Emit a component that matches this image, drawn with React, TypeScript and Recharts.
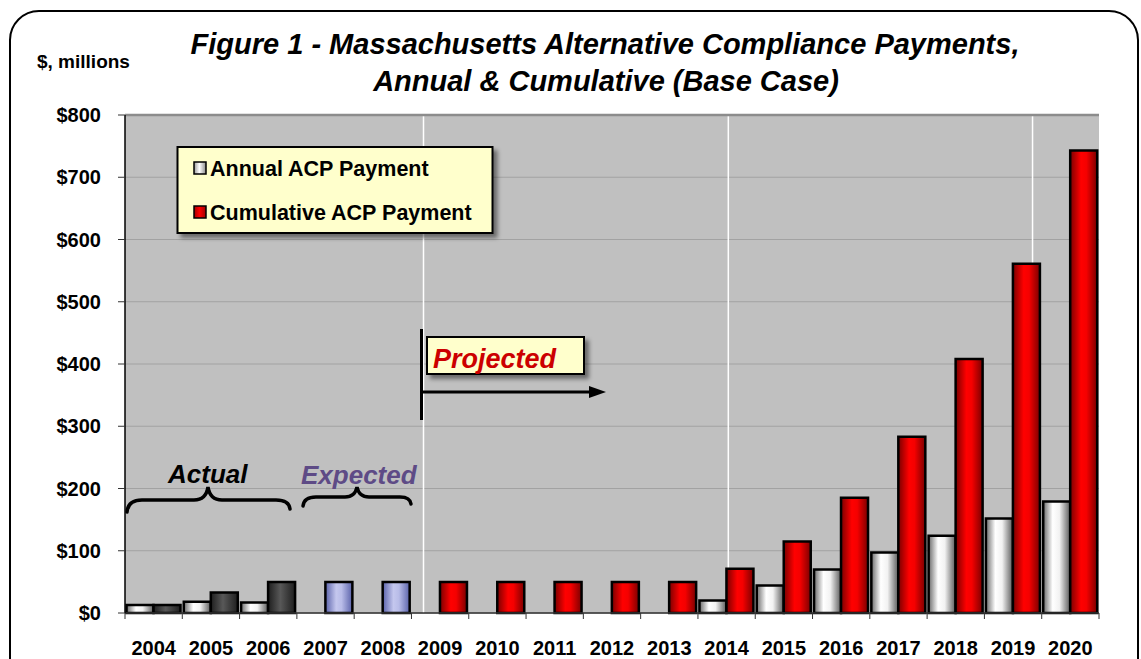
import React from 'react';
import { BarChart, Bar, XAxis, YAxis, CartesianGrid, ReferenceLine, Cell } from 'recharts';

const years = ['2004', '2005', '2006', '2007', '2008', '2009', '2010', '2011', '2012', '2013', '2014', '2015', '2016', '2017', '2018', '2019', '2020'];
const annualPayment: (number | null)[] = [13, 18, 17, null, null, null, null, null, null, null, 20, 44, 70, 97, 124, 152, 179];
const cumulativePayment = [13, 33, 50, 50, 50, 50, 50, 50, 50, 50, 71, 115, 185, 283, 408, 561, 743];
const phase = ['actual', 'actual', 'actual', 'expected', 'expected', 'projected', 'projected', 'projected', 'projected', 'projected', 'projected', 'projected', 'projected', 'projected', 'projected', 'projected', 'projected'];
const yTicks = [0, 100, 200, 300, 400, 500, 600, 700, 800];
const seriesNames = ['Annual ACP Payment', 'Cumulative ACP Payment'];
const dividerPositions = [5.21, 10.53, 15.84];

const data = years.map((year, i) => ({ year, annual: annualPayment[i], cumulative: cumulativePayment[i], phase: phase[i] }));

const W = 1141;
const H = 659;
const MARGIN = { top: 115, right: 42, left: 0, bottom: 0 };
const Y_W = 125;
const X_H = 46;
const PLOT_W = W - MARGIN.left - MARGIN.right - Y_W;
const TICK_SIZE = 6;
const TICK_MARGIN = 2;
const FONT = 'Arial, "Liberation Sans", Helvetica, sans-serif';

const phaseFill: Record<string, string> = {
  actual: 'url(#gDark)',
  expected: 'url(#gBlue)',
  projected: 'url(#gRed)',
};

const XTick = (props: any) => {
  const { x, y, payload, index } = props;
  const half = PLOT_W / years.length / 2;
  const axisY = y - TICK_SIZE - TICK_MARGIN;
  const last = index === years.length - 1;
  return (
    <g>
      <line x1={x - half} x2={x - half} y1={axisY} y2={axisY + TICK_SIZE} stroke="#333" strokeWidth={1} />
      {last && <line x1={x + half} x2={x + half} y1={axisY} y2={axisY + TICK_SIZE} stroke="#333" strokeWidth={1} />}
      <text x={x} y={axisY + 42} textAnchor="middle" fontFamily={FONT} fontWeight="bold" fontSize={20} fill="#000">
        {payload.value}
      </text>
    </g>
  );
};

const verticalGen = (args: any) => {
  const off = args && args.offset ? args.offset : { left: Y_W, width: PLOT_W };
  const n = years.length;
  return dividerPositions.map((p) => off.left + (p * off.width) / n);
};

export default function App() {
  return (
    <div style={{ position: 'fixed', left: 0, top: 0, width: W, height: H, overflow: 'hidden', background: '#fff' }}>
      <div
        style={{
          position: 'absolute',
          left: 9,
          top: 10,
          width: 1130,
          height: 720,
          border: '2.5px solid #000',
          borderRadius: 30,
          boxSizing: 'border-box',
        }}
      />
      <div style={{ position: 'absolute', left: 0, top: 0 }}>
        <BarChart width={W} height={H} data={data} margin={MARGIN} barCategoryGap={1.5} barGap={0}>
          <defs>
            <linearGradient id="gWhite" x1="0" y1="0" x2="1" y2="0">
              <stop offset="0%" stopColor="#6a6a6a" />
              <stop offset="35%" stopColor="#ffffff" />
              <stop offset="60%" stopColor="#f2f2f2" />
              <stop offset="100%" stopColor="#5a5a5a" />
            </linearGradient>
            <linearGradient id="gRed" x1="0" y1="0" x2="1" y2="0">
              <stop offset="0%" stopColor="#7a0000" />
              <stop offset="40%" stopColor="#ff0000" />
              <stop offset="60%" stopColor="#f50000" />
              <stop offset="100%" stopColor="#7a0000" />
            </linearGradient>
            <linearGradient id="gDark" x1="0" y1="0" x2="1" y2="0">
              <stop offset="0%" stopColor="#1e1e1e" />
              <stop offset="45%" stopColor="#585858" />
              <stop offset="100%" stopColor="#1e1e1e" />
            </linearGradient>
            <linearGradient id="gBlue" x1="0" y1="0" x2="1" y2="0">
              <stop offset="0%" stopColor="#5a62aa" />
              <stop offset="40%" stopColor="#c4c7ee" />
              <stop offset="60%" stopColor="#b8bce8" />
              <stop offset="100%" stopColor="#5a62aa" />
            </linearGradient>
          </defs>
          <CartesianGrid vertical={false} fill="#C0C0C0" stroke="#A2A2A2" strokeWidth={1} />
          <CartesianGrid horizontal={false} stroke="#FFFFFF" strokeWidth={1.5} verticalCoordinatesGenerator={verticalGen} />
          <XAxis
            dataKey="year"
            height={X_H}
            interval={0}
            tickLine={false}
            tickSize={TICK_SIZE}
            tickMargin={TICK_MARGIN}
            axisLine={{ stroke: '#333', strokeWidth: 1.5 }}
            tick={<XTick />}
          />
          <XAxis xAxisId="num" type="number" domain={[0, years.length]} hide />
          <YAxis
            width={Y_W}
            domain={[0, 800]}
            ticks={yTicks}
            interval={0}
            tickFormatter={(v: number) => `$${v}`}
            tickSize={7}
            tickMargin={17}
            tickLine={{ stroke: '#333' }}
            axisLine={{ stroke: '#000', strokeWidth: 1.5 }}
            tick={{ fontSize: 20, fontWeight: 'bold', fill: '#000', fontFamily: FONT }}
          />
          <ReferenceLine y={800} stroke="#8c8c8c" strokeWidth={2.5} />
          <ReferenceLine xAxisId="num" x={years.length} stroke="#8c8c8c" strokeWidth={2.5} />
          <Bar dataKey="annual" name={seriesNames[0]} fill="url(#gWhite)" stroke="#000" strokeWidth={2.5} isAnimationActive={false} />
          <Bar dataKey="cumulative" name={seriesNames[1]} fill="url(#gRed)" stroke="#000" strokeWidth={2.5} isAnimationActive={false}>
            {data.map((d, i) => (
              <Cell key={i} fill={phaseFill[d.phase]} />
            ))}
          </Bar>
        </BarChart>
      </div>
      <svg width={W} height={H} style={{ position: 'absolute', left: 0, top: 0, pointerEvents: 'none' }}>
        <defs>
          <filter id="shadow" x="-10%" y="-20%" width="130%" height="160%">
            <feDropShadow dx="4" dy="4" stdDeviation="2" floodColor="#000" floodOpacity="0.45" />
          </filter>
          <linearGradient id="lgWhite" x1="0" y1="0" x2="1" y2="0">
            <stop offset="0%" stopColor="#9a9a9a" />
            <stop offset="45%" stopColor="#ffffff" />
            <stop offset="100%" stopColor="#8a8a8a" />
          </linearGradient>
          <linearGradient id="lgRed" x1="0" y1="0" x2="1" y2="0">
            <stop offset="0%" stopColor="#a00000" />
            <stop offset="45%" stopColor="#ff0000" />
            <stop offset="100%" stopColor="#a00000" />
          </linearGradient>
        </defs>
        <text x={605} y={54} textAnchor="middle" fontFamily={FONT} fontWeight="bold" fontStyle="italic" fontSize={29} fill="#000">
          Figure 1 - Massachusetts Alternative Compliance Payments,
        </text>
        <text x={606} y={91} textAnchor="middle" fontFamily={FONT} fontWeight="bold" fontStyle="italic" fontSize={29} fill="#000">
          Annual &amp; Cumulative (Base Case)
        </text>
        <text x={37} y={68} fontFamily={FONT} fontWeight="bold" fontSize={19} fill="#000">
          $, millions
        </text>

        {/* legend */}
        <rect x={177.5} y={147} width={315} height={86} fill="#FFFFCC" stroke="#000" strokeWidth={2} filter="url(#shadow)" />
        <rect x={194} y={162} width={12} height={12} fill="url(#lgWhite)" stroke="#000" strokeWidth={1.5} />
        <text x={210} y={175.5} fontFamily={FONT} fontWeight="bold" fontSize={21.5} fill="#000">
          {seriesNames[0]}
        </text>
        <rect x={194} y={206} width={12} height={12} fill="url(#lgRed)" stroke="#000" strokeWidth={1.5} />
        <text x={210} y={219.5} fontFamily={FONT} fontWeight="bold" fontSize={21.5} fill="#000">
          {seriesNames[1]}
        </text>

        {/* Actual / Expected annotations */}
        <text x={168} y={483} fontFamily={FONT} fontWeight="bold" fontStyle="italic" fontSize={26} fill="#000">
          Actual
        </text>
        <path d="M127,512 Q128,500 142,500 L194,500 Q206,500 208,487 Q210,500 222,500 L276,500 Q289,500 290,509" fill="none" stroke="#000" strokeWidth={3.5} strokeLinecap="round" />
        <text x={301} y={484} fontFamily={FONT} fontWeight="bold" fontStyle="italic" fontSize={26} fill="#5E4B86">
          Expected
        </text>
        <path d="M303,506 Q304,497 316,497 L345,497 Q355,497 357,487 Q359,497 369,497 L400,497 Q410,497 411,504" fill="none" stroke="#000" strokeWidth={3.5} strokeLinecap="round" />

        {/* Projected */}
        <rect x={427} y={337} width={157} height={37} fill="#FFFFCC" stroke="#000" strokeWidth={2} filter="url(#shadow)" />
        <text x={433} y={368} fontFamily={FONT} fontWeight="bold" fontStyle="italic" fontSize={27} fill="#CC0000">
          Projected
        </text>
        <line x1={421.5} x2={421.5} y1={329} y2={420} stroke="#000" strokeWidth={3} />
        <line x1={421.5} x2={592} y1={392} y2={392} stroke="#000" strokeWidth={3} />
        <polygon points="589,386 606,392 589,398" fill="#000" />
      </svg>
    </div>
  );
}
